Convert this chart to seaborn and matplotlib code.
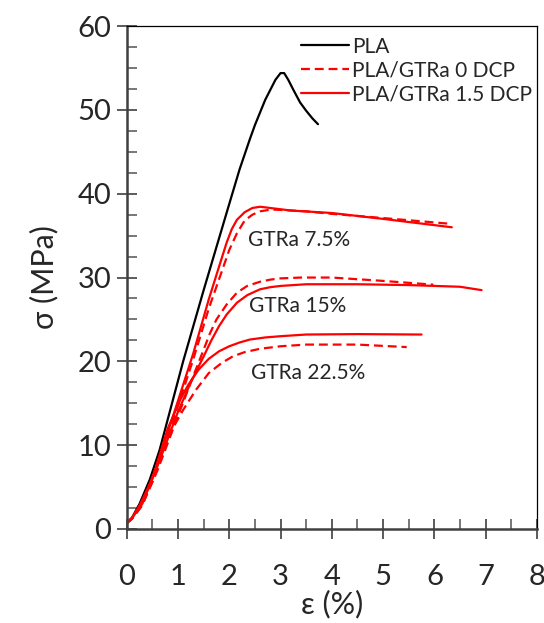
import matplotlib
matplotlib.use("Agg")
import matplotlib.pyplot as plt
from matplotlib.ticker import MultipleLocator
import pandas as pd
import seaborn as sns

# stress-strain curves (strain %, stress MPa)
pla_strain = [0, 0.1, 0.25, 0.45, 0.64, 1.1, 1.5, 2.0, 2.2, 2.4, 2.5, 2.6, 2.7, 2.8,
              2.9, 3.0, 3.07, 3.15, 3.25, 3.38, 3.5, 3.62, 3.73]
pla_stress = [0.7, 1.3, 3.0, 5.9, 9.4, 20.0, 28.5, 38.8, 42.9, 46.5, 48.2, 49.7, 51.2, 52.4,
              53.6, 54.4, 54.4, 53.6, 52.4, 50.9, 49.9, 49.0, 48.3]

g75_0_strain = [0, 0.1, 0.25, 0.5, 0.8, 1.3, 1.6, 2.0, 2.15, 2.3, 2.45, 2.6, 2.75, 2.9,
                3.5, 4.0, 5.0, 6.34]
g75_0_stress = [0.7, 1.2, 2.6, 5.6, 11.0, 20.3, 26.3, 33.3, 35.3, 36.8, 37.5, 37.9, 38.05, 38.1,
                37.9, 37.6, 37.1, 36.4]
g75_15_strain = [0, 0.1, 0.25, 0.5, 0.8, 1.3, 1.6, 1.8, 1.95, 2.05, 2.15, 2.3, 2.45, 2.6,
                 2.8, 3.2, 4.0, 5.0, 6.34]
g75_15_stress = [0.7, 1.3, 2.8, 6.0, 11.5, 21.0, 27.4, 31.3, 34.2, 35.8, 36.9, 37.8, 38.3, 38.45,
                 38.3, 38.0, 37.7, 37.0, 36.0]

g15_0_strain = [0, 0.1, 0.3, 0.6, 1.0, 1.25, 1.5, 1.62, 1.75, 1.95, 2.15, 2.35, 2.6, 2.8,
                3.0, 3.4, 4.0, 5.0, 5.98]
g15_0_stress = [0.7, 1.2, 2.8, 7.0, 13.5, 17.5, 21.4, 23.3, 25.0, 26.8, 28.2, 29.0, 29.5, 29.75,
                29.9, 30.0, 30.0, 29.6, 29.15]
g15_15_strain = [0, 0.1, 0.3, 0.6, 1.0, 1.25, 1.5, 1.65, 1.8, 1.95, 2.15, 2.35, 2.6, 2.8,
                 3.0, 3.5, 4.5, 5.5, 6.5, 6.92]
g15_15_stress = [0.7, 1.3, 3.0, 7.5, 14.0, 17.5, 20.6, 22.5, 24.2, 25.6, 27.0, 27.9, 28.6, 28.85,
                 29.0, 29.2, 29.2, 29.1, 28.9, 28.5]

g225_0_strain = [0, 0.1, 0.3, 0.55, 0.85, 1.1, 1.35, 1.6, 1.85, 2.07, 2.3, 2.6, 3.0, 3.5,
                 4.5, 5.46]
g225_0_stress = [0.7, 1.2, 2.8, 6.5, 11.5, 14.2, 16.6, 18.6, 19.8, 20.6, 21.1, 21.5, 21.8, 22.0,
                 22.0, 21.7]
g225_15_strain = [0, 0.1, 0.3, 0.55, 0.8, 1.05, 1.2, 1.4, 1.6, 1.8, 2.0, 2.2, 2.4, 2.7, 3.0,
                  3.5, 4.5, 5.75]
g225_15_stress = [0.7, 1.3, 3.0, 7.0, 12.0, 15.5, 17.2, 19.0, 20.3, 21.2, 21.8, 22.25, 22.6, 22.85,
                  23.0, 23.2, 23.25, 23.2]

annot_text = ["GTRa 7.5%", "GTRa 15%", "GTRa 22.5%"]
annot_x = [2.36, 2.38, 2.42]
annot_y = [34.5, 26.6, 18.6]

sns.set_style("ticks")
plt.rcParams["font.family"] = ["Lato", "DejaVu Sans"]

fig = plt.figure(figsize=(5.44, 6.23), dpi=100)
ax = fig.add_axes([0.233, 0.151, 0.754, 0.807])

curves = [
    (pla_strain, pla_stress, "black", "-", "PLA"),
    (g75_0_strain, g75_0_stress, "red", "--", "PLA/GTRa 0 DCP"),
    (g75_15_strain, g75_15_stress, "red", "-", "PLA/GTRa 1.5 DCP"),
    (g15_0_strain, g15_0_stress, "red", "--", None),
    (g15_15_strain, g15_15_stress, "red", "-", None),
    (g225_0_strain, g225_0_stress, "red", "--", None),
    (g225_15_strain, g225_15_stress, "red", "-", None),
]
for xs, ys, col, ls, lab in curves:
    df = pd.DataFrame({"strain": xs, "stress": ys})
    sns.lineplot(data=df, x="strain", y="stress", color=col, sort=False,
                 estimator=None, linewidth=1.6, label=lab, ax=ax, legend=False)
    ax.lines[-1].set_linestyle(ls)
    if ls == "--":
        ax.lines[-1].set_dashes((4, 2.2))

for t, x, y in zip(annot_text, annot_x, annot_y):
    ax.text(x, y, t, fontsize=15, va="center", ha="left")

ax.set_xlim(0, 8)
ax.set_ylim(0, 60)
ax.xaxis.set_major_locator(MultipleLocator(1))
ax.xaxis.set_minor_locator(MultipleLocator(0.5))
ax.yaxis.set_major_locator(MultipleLocator(10))
ax.yaxis.set_minor_locator(MultipleLocator(2.5))
ax.tick_params(which="major", direction="inout", length=14, width=1.2,
               color="#404040", labelsize=21, pad=4)
ax.tick_params(which="minor", direction="in", length=7, width=1.2, color="#606060")
ax.tick_params(axis="x", pad=18)
ax.set_xlabel("ε (%)", fontsize=22, labelpad=0)
ax.set_ylabel("σ (MPa)", fontsize=22, labelpad=14)
for s in ["left", "bottom"]:
    ax.spines[s].set_linewidth(1.8)
    ax.spines[s].set_color("#404040")
for s in ["top", "right"]:
    ax.spines[s].set_linewidth(0.9)
    ax.spines[s].set_color("black")

ax.legend(loc="upper left", bbox_to_anchor=(0.40, 1.0), frameon=False,
          fontsize=15, handlelength=2.3, handletextpad=0.15, labelspacing=0.18,
          borderaxespad=0.1)

fig.savefig("out.png", dpi=100)
